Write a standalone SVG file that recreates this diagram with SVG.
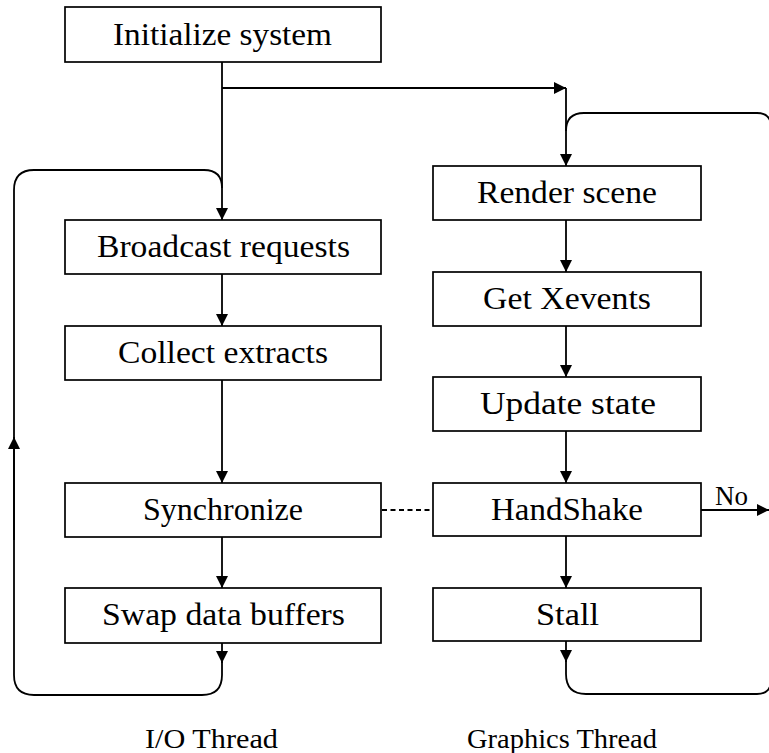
<svg xmlns="http://www.w3.org/2000/svg" width="769" height="753" viewBox="0 0 769 753">
<style>
  .box rect { fill: #fff; stroke: #000; stroke-width: 1.7; }
  .box text, .lbl { font-family: "Liberation Serif", "Times New Roman", serif; font-size: 31px; fill: #000; text-anchor: middle; }
  .lbl.small { font-size: 27px; }
  .edge { fill: none; stroke: #000; stroke-width: 1.8; }
  .dash { stroke-dasharray: 5 3.5; }
</style>
<defs>
  <marker id="arr" markerUnits="userSpaceOnUse" markerWidth="14" markerHeight="12" refX="12" refY="6" orient="auto">
    <path d="M0,0 L12,6 L0,12 Z" fill="#000"/>
  </marker>
</defs>
<rect width="769" height="753" fill="#fff"/>

<g id="connectors">
  <path class="edge" d="M222,62 V220" marker-end="url(#arr)"/>
  <path class="edge" d="M222,88 H566" marker-end="url(#arr)"/>
  <path class="edge" d="M566,88 V166" marker-end="url(#arr)"/>
  <path class="edge" d="M222,274 V326" marker-end="url(#arr)"/>
  <path class="edge" d="M222,380 V483" marker-end="url(#arr)"/>
  <path class="edge" d="M222,537 V588" marker-end="url(#arr)"/>
  <path class="edge" d="M222,643 V663" marker-end="url(#arr)"/>
  <path class="edge" d="M222,660 V675 Q222,695 202,695 H34 Q14,695 14,675 V437"/>
  <path class="edge" d="M14,540 V437" marker-end="url(#arr)"/>
  <path class="edge" d="M14,437 V190 Q14,170 34,170 H204 Q222,170 222,188"/>
  <path class="edge" d="M566,220 V272" marker-end="url(#arr)"/>
  <path class="edge" d="M566,326 V377" marker-end="url(#arr)"/>
  <path class="edge" d="M566,431 V483" marker-end="url(#arr)"/>
  <path class="edge" d="M566,536 V588" marker-end="url(#arr)"/>
  <path class="edge" d="M566,641 V662" marker-end="url(#arr)"/>
  <path class="edge" d="M566,660 V674 Q566,694 586,694 H757 Q771,694 771,680 V127 Q771,113 757,113 H584 Q566,113 566,131"/>
  <path class="edge" d="M701,510 H769" marker-end="url(#arr)"/>
  <path class="edge dash" d="M382,510 H433"/>
</g>

<g id="n_init" class="box"><rect x="65" y="7" width="316" height="55"/><text x="222.5" y="45" textLength="219" lengthAdjust="spacingAndGlyphs">Initialize system</text></g>
<g id="n_broadcast" class="box"><rect x="65" y="220" width="316" height="54"/><text x="223.5" y="257" textLength="253" lengthAdjust="spacingAndGlyphs">Broadcast requests</text></g>
<g id="n_collect" class="box"><rect x="65" y="326" width="316" height="54"/><text x="223" y="363" textLength="210" lengthAdjust="spacingAndGlyphs">Collect extracts</text></g>
<g id="n_sync" class="box"><rect x="65" y="483" width="316" height="54"/><text x="223" y="520" textLength="160" lengthAdjust="spacingAndGlyphs">Synchronize</text></g>
<g id="n_swap" class="box"><rect x="65" y="588" width="316" height="55"/><text x="223.5" y="625" textLength="243" lengthAdjust="spacingAndGlyphs">Swap data buffers</text></g>

<g id="n_render" class="box"><rect x="433" y="166" width="268" height="54"/><text x="567" y="203" textLength="180" lengthAdjust="spacingAndGlyphs">Render scene</text></g>
<g id="n_xevents" class="box"><rect x="433" y="272" width="268" height="54"/><text x="567" y="309" textLength="168" lengthAdjust="spacingAndGlyphs">Get Xevents</text></g>
<g id="n_update" class="box"><rect x="433" y="377" width="268" height="54"/><text x="568" y="414" textLength="176" lengthAdjust="spacingAndGlyphs">Update state</text></g>
<g id="n_handshake" class="box"><rect x="433" y="483" width="268" height="53"/><text x="567" y="520" textLength="152" lengthAdjust="spacingAndGlyphs">HandShake</text></g>
<g id="n_stall" class="box"><rect x="433" y="588" width="268" height="53"/><text x="567.5" y="625" textLength="63" lengthAdjust="spacingAndGlyphs">Stall</text></g>

<text class="lbl small" x="731.5" y="505" textLength="33" lengthAdjust="spacingAndGlyphs">No</text>
<text class="lbl small" x="211.5" y="748" textLength="133" lengthAdjust="spacingAndGlyphs">I/O Thread</text>
<text class="lbl small" x="562" y="748" textLength="190" lengthAdjust="spacingAndGlyphs">Graphics Thread</text>
</svg>
